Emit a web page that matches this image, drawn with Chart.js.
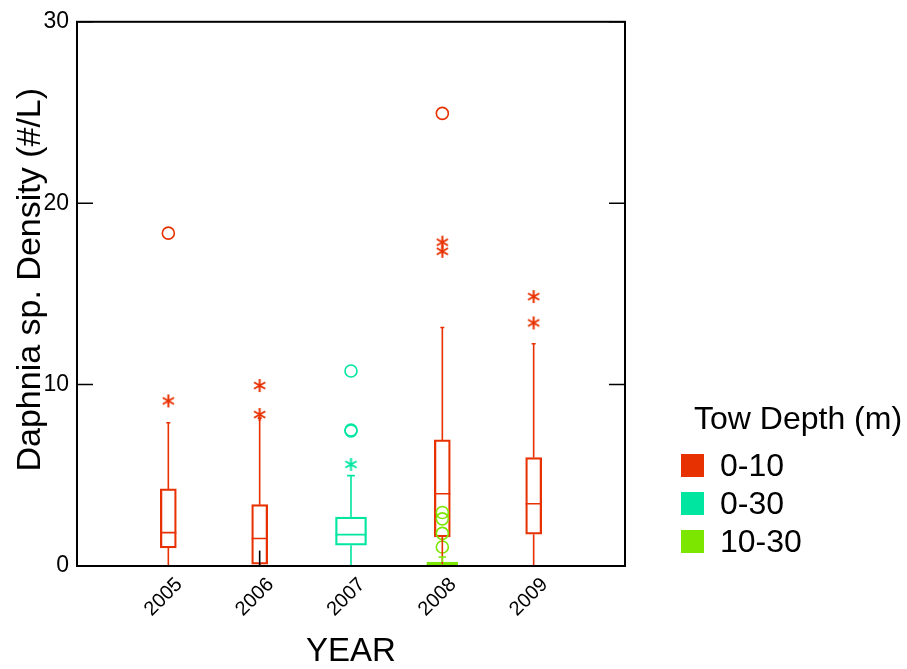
<!DOCTYPE html>
<html>
<head>
<meta charset="utf-8">
<script src="https://cdn.jsdelivr.net/npm/chart.js@4.4.1/dist/chart.umd.min.js"></script>
<style>
  body { margin: 0; background: #fff; }
  #wrap { position: relative; width: 907px; height: 669px; font-family: "Liberation Sans", Arial, sans-serif; }
  #legend .ttl { position: absolute; left: 694px; top: 402px; font-size: 32px; line-height: 32px; white-space: nowrap; }
  #legend .row { position: absolute; left: 681px; height: 23px; font-size: 32px; line-height: 23px; white-space: nowrap; }
  #legend .sw { display: inline-block; width: 23px; height: 23px; vertical-align: top; margin-right: 16px; }
</style>
</head>
<body>
<div id="wrap">
  <canvas id="chart" width="907" height="669"></canvas>
  <div id="legend"></div>
</div>
<script>
// year categories
const years = ['2005', '2006', '2007', '2008', '2009'];

// tow depth 0-10 m
const shallowLow = [0, 0, null, 0, 0];
const shallowQ1 = [1.0, 0.1, null, 1.6, 1.75];
const shallowMed = [1.84, 1.52, null, 3.98, 3.43];
const shallowQ3 = [4.25, 3.38, null, 6.95, 5.98];
const shallowHigh = [7.9, 8.15, null, 13.15, 12.25];
const shallowStars = [[9.1], [8.35, 9.95], [], [17.35, 17.85], [13.4, 14.85]];
const shallowCircles = [[18.35], [], [], [24.95], []];

// tow depth 0-30 m
const fullLow = [null, null, 0, null, null];
const fullQ1 = [null, null, 1.15, null, null];
const fullMed = [null, null, 1.73, null, null];
const fullQ3 = [null, null, 2.7, null, null];
const fullHigh = [null, null, 4.98, null, null];
const fullStars = [[], [], [5.6], [], []];
const fullCircles = [[], [], [10.75, 7.5, 7.45], [], []];

// tow depth 10-30 m
const deepLow = [null, null, null, 0, null];
const deepQ1 = [null, null, null, 0, null];
const deepMed = [null, null, null, 0.05, null];
const deepQ3 = [null, null, null, 0.22, null];
const deepHigh = [null, null, null, 0.5, null];
const deepStars = [[], [], [], [], []];
const deepCircles = [[], [], [], [2.95, 2.6, 1.8, 1.05], []];

// short black segment near the 2006 box
const blackStub = [null, 0.85, null, null, null];

const yTicks = [0, 10, 20, 30];

const RED = '#e83100';
const TEAL = '#00e6a1';
const GREEN = '#7de600';
const FONT = "'Liberation Sans', Arial, sans-serif";

const labels = [' ', ...years, '  '];

const groups = [
  { name: '0-10', color: RED, width: 16, low: shallowLow, q1: shallowQ1, med: shallowMed, q3: shallowQ3, high: shallowHigh, stars: shallowStars, circles: shallowCircles },
  { name: '0-30', color: TEAL, width: 31, low: fullLow, q1: fullQ1, med: fullMed, q3: fullQ3, high: fullHigh, stars: fullStars, circles: fullCircles },
  { name: '10-30', color: GREEN, width: 31, low: deepLow, q1: deepQ1, med: deepMed, q3: deepQ3, high: deepHigh, stars: deepStars, circles: deepCircles },
];

const makeStar = (color) => {
  const c = document.createElement('canvas');
  c.width = 15; c.height = 15;
  const g = c.getContext('2d');
  g.strokeStyle = color;
  g.lineWidth = 2;
  g.beginPath();
  for (let a = 0; a < 3; a++) {
    const ang = Math.PI / 2 + a * Math.PI / 3;
    g.moveTo(7.5 - 6.5 * Math.cos(ang), 7.5 - 6.5 * Math.sin(ang));
    g.lineTo(7.5 + 6.5 * Math.cos(ang), 7.5 + 6.5 * Math.sin(ang));
  }
  g.stroke();
  return c;
};

const toPoints = (lists) => {
  let pts = [];
  lists.forEach((vals, i) => vals.forEach(v => pts.push({ x: years[i], y: v })));
  return pts;
};

let datasets = [];
// outliers first so they sit above the boxes
groups.slice().reverse().forEach(gr => {
  datasets.push({
    type: 'line', label: gr.name + ' circles', data: toPoints(gr.circles), showLine: false,
    pointStyle: 'circle', pointRadius: 6, pointBorderWidth: 1.6,
    pointBorderColor: gr.color, pointBackgroundColor: 'rgba(0,0,0,0)',
  });
  datasets.push({
    type: 'line', label: gr.name + ' stars', data: toPoints(gr.stars), showLine: false,
    pointStyle: makeStar(gr.color), pointRadius: 7,
  });
});
groups.slice().reverse().forEach(gr => {
  datasets.push({
    type: 'bar', label: gr.name,
    data: [null, ...years.map((_, i) => gr.q1[i] == null ? null : [gr.q1[i], gr.q3[i]]), null],
    backgroundColor: 'rgba(0,0,0,0)', borderColor: gr.color, borderWidth: 1.6,
    borderSkipped: false, barThickness: gr.width, grouped: false,
  });
});

// whiskers, caps and medians
const whiskerPlugin = {
  id: 'whiskers',
  afterDatasetsDraw(chart) {
    const { ctx, scales: { x, y } } = chart;
    ctx.save();
    ctx.lineWidth = 1.6;
    groups.forEach(gr => {
      ctx.strokeStyle = gr.color;
      years.forEach((yr, i) => {
        if (gr.q1[i] == null) return;
        const px = x.getPixelForValue(i + 1);
        const half = gr.width / 2;
        const cap = gr.width / 8;
        ctx.beginPath();
        ctx.moveTo(px, y.getPixelForValue(gr.q3[i]));
        ctx.lineTo(px, y.getPixelForValue(gr.high[i]));
        ctx.moveTo(px - cap, y.getPixelForValue(gr.high[i]));
        ctx.lineTo(px + cap, y.getPixelForValue(gr.high[i]));
        ctx.moveTo(px, y.getPixelForValue(gr.q1[i]));
        ctx.lineTo(px, y.getPixelForValue(gr.low[i]));
        ctx.moveTo(px - cap, y.getPixelForValue(gr.low[i]));
        ctx.lineTo(px + cap, y.getPixelForValue(gr.low[i]));
        ctx.moveTo(px - half, y.getPixelForValue(gr.med[i]));
        ctx.lineTo(px + half, y.getPixelForValue(gr.med[i]));
        ctx.stroke();
      });
    });
    ctx.strokeStyle = '#000';
    blackStub.forEach((v, i) => {
      if (v == null) return;
      const px = x.getPixelForValue(i + 1);
      ctx.beginPath();
      ctx.moveTo(px, y.getPixelForValue(0));
      ctx.lineTo(px, y.getPixelForValue(v));
      ctx.stroke();
    });
    ctx.restore();
  },
  afterDraw(chart) {
    const { ctx, chartArea: a, scales: { y } } = chart;
    ctx.save();
    ctx.strokeStyle = '#000';
    ctx.lineWidth = 2;
    ctx.strokeRect(a.left, a.top, a.right - a.left, a.bottom - a.top);
    ctx.lineWidth = 1.5;
    yTicks.forEach(t => {
      const py = y.getPixelForValue(t);
      ctx.beginPath();
      ctx.moveTo(a.left, py); ctx.lineTo(a.left + 16, py);
      ctx.moveTo(a.right, py); ctx.lineTo(a.right - 16, py);
      ctx.stroke();
    });
    ctx.restore();
  }
};

Chart.defaults.color = '#000';
Chart.defaults.font.family = FONT;

new Chart(document.getElementById('chart'), {
  type: 'bar',
  data: { labels: labels, datasets: datasets },
  options: {
    responsive: false,
    animation: false,
    layout: { padding: { top: 18, right: 282, left: 0, bottom: 0 } },
    plugins: { legend: { display: false }, tooltip: { enabled: false } },
    scales: {
      x: {
        type: 'category',
        offset: false,
        grid: { display: false, drawTicks: false },
        border: { display: false },
        ticks: { autoSkip: false, minRotation: 45, maxRotation: 45, padding: 7, labelOffset: 11, font: { size: 20 } },
        title: { display: true, text: 'YEAR', font: { size: 33 }, padding: { top: 0, bottom: -3 } },
        afterFit: (s) => { s.height = 103; },
      },
      y: {
        min: 0, max: 30,
        afterBuildTicks: (s) => { s.ticks = yTicks.map(v => ({ value: v })); },
        grid: { display: false, drawTicks: false },
        border: { display: false },
        ticks: { padding: 8, font: { size: 23 } },
        // leading spaces nudge the rotated title up a little
        title: { display: true, text: '   Daphnia sp. Density (#/L)', font: { size: 34 }, padding: { top: 10, bottom: 0 } },
        afterFit: (s) => { s.width = 77; },
      },
    },
  },
  plugins: [whiskerPlugin],
});

// legend
const legend = document.getElementById('legend');
legend.innerHTML = '<div class="ttl">Tow Depth (m)</div>' + groups.map((gr, i) =>
  `<div class="row" style="top:${454 + i * 38}px"><span class="sw" style="background:${gr.color}"></span>${gr.name}</div>`
).join('');
</script>
</body>
</html>
